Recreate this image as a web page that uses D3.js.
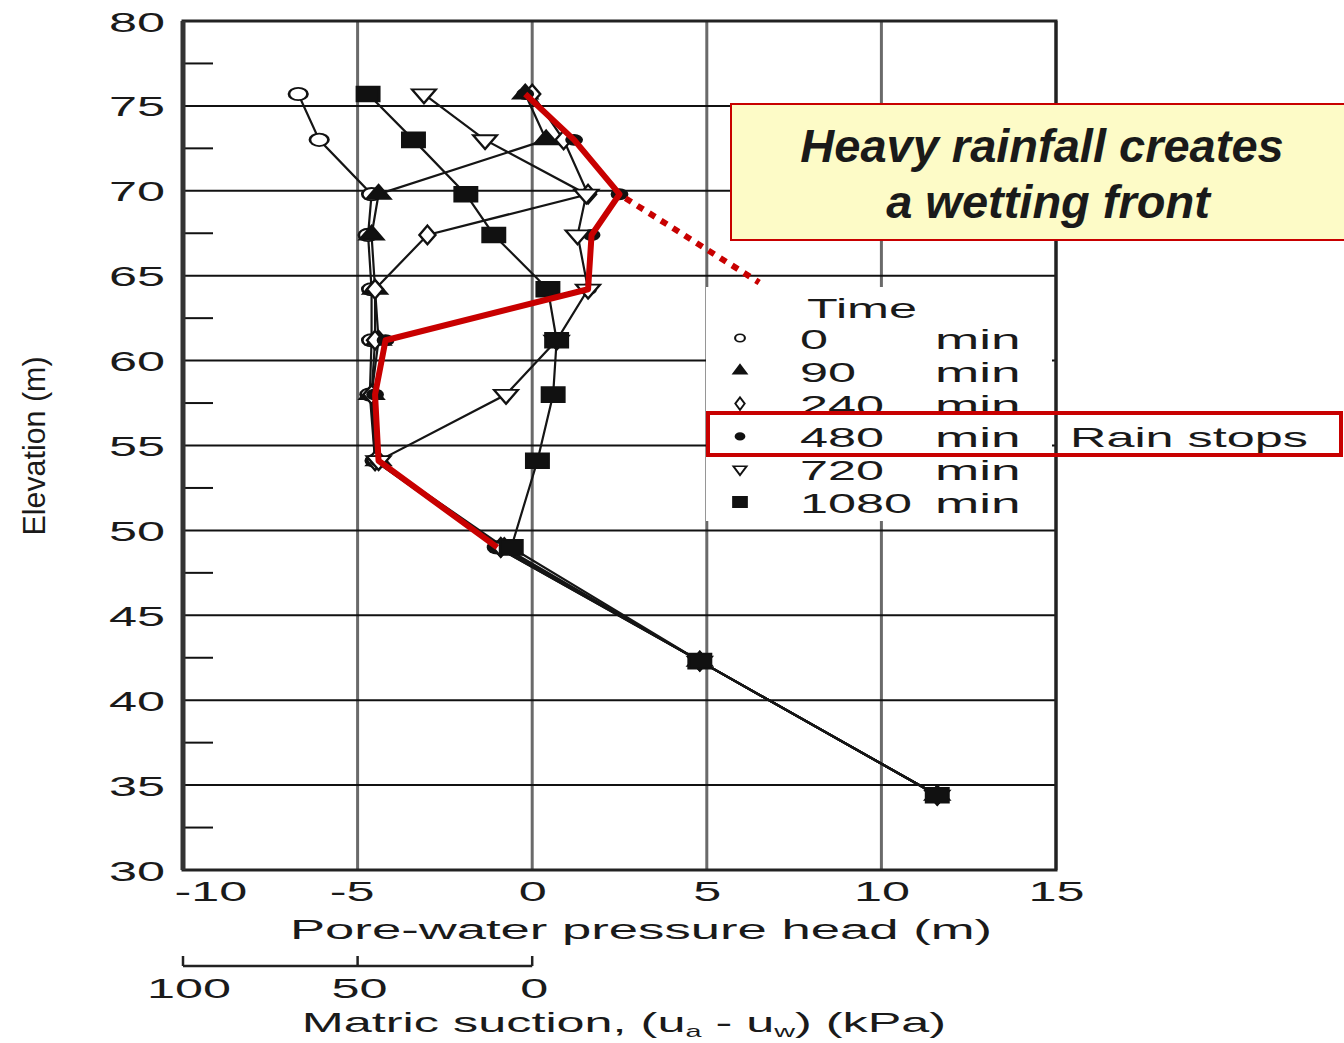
<!DOCTYPE html>
<html>
<head>
<meta charset="utf-8">
<script src="https://cdn.jsdelivr.net/npm/d3@7"></script>
<style>
  body { margin: 0; background: #fff; }
  text { font-family: "Liberation Sans", Arial, sans-serif; fill: #1a1a1a; }
</style>
</head>
<body>
<div id="chart"></div>
<script>
// Elevation levels (m) shared by all profiles
const elevations = [75.7, 73.0, 69.8, 67.4, 64.2, 61.2, 58.0, 54.1, 49.0, 42.3, 34.4];

// Pore-water pressure head (m) at each elevation, one array per time
const head0    = [-6.7, -6.1, -4.6, -4.7, -4.6, -4.6, -4.65, -4.5, -1.0, 4.8, 11.6];
const head90   = [-0.2, 0.4, -4.4, -4.6, -4.5, -4.4, -4.6, -4.4, -0.8, 4.8, 11.6];
const head240  = [0.0, 0.9, 1.6, -3.0, -4.5, -4.5, -4.6, -4.5, -0.9, 4.8, 11.6];
const head480  = [-0.2, 1.2, 2.5, 1.7, 1.6, -4.2, -4.5, -4.4, -1.0, 4.8, 11.6];
const head720  = [-3.1, -1.35, 1.55, 1.3, 1.6, 0.7, -0.75, -4.4, -0.9, 4.8, 11.6];
const head1080 = [-4.7, -3.4, -1.9, -1.1, 0.45, 0.7, 0.6, 0.15, -0.6, 4.8, 11.6];

const timeLabels = ["0", "90", "240", "480", "720", "1080"];
const xTicks = [-10, -5, 0, 5, 10, 15];
const yTicks = [30, 35, 40, 45, 50, 55, 60, 65, 70, 75, 80];
const suctionTicks = [100, 50, 0];

// annotation: end of the dotted pointer (head, elevation)
const pointerEnd = [6.5, 64.6];

const series = [
    { time: "0",    values: head0,    shape: d3.symbolCircle,   fill: false, size: 120 },
    { time: "90",   values: head90,   shape: d3.symbolTriangle, fill: true,  size: 110 },
    { time: "240",  values: head240,  shape: d3.symbolDiamond,  fill: false, size: 100 },
    { time: "480",  values: head480,  shape: d3.symbolCircle,   fill: true,  size: 80 },
    { time: "720",  values: head720,  shape: d3.symbolTriangle, fill: false, size: 110, flip: true },
    { time: "1080", values: head1080, shape: d3.symbolSquare,   fill: true,  size: 220 }
];

const W = 1344, H = 1043;
const K = 1.8; // horizontal stretch of the scanned lettering

const svg = d3.select("#chart").append("svg")
    .attr("width", W).attr("height", H);

const x = d3.scaleLinear().domain([-10, 15]).range([183, 1056]);
const y = d3.scaleLinear().domain([30, 80]).range([870, 21]);
const xs = d3.scaleLinear().domain([100, 0]).range([x(-10), x(0)]);

// grid
svg.append("g").selectAll("line")
    .data(xTicks.slice(1, -1))
    .join("line")
    .attr("x1", d => x(d)).attr("x2", d => x(d))
    .attr("y1", y(80)).attr("y2", y(30))
    .attr("stroke", "#6a6a6a").attr("stroke-width", 3);

svg.append("g").selectAll("line")
    .data(yTicks.slice(1, -1))
    .join("line")
    .attr("x1", x(-10)).attr("x2", x(15))
    .attr("y1", d => y(d)).attr("y2", d => y(d))
    .attr("stroke", "#111").attr("stroke-width", 2);

// minor ticks on left axis
svg.append("g").selectAll("line")
    .data(d3.range(32.5, 80, 5))
    .join("line")
    .attr("x1", x(-10)).attr("x2", x(-10) + 30)
    .attr("y1", d => y(d)).attr("y2", d => y(d))
    .attr("stroke", "#111").attr("stroke-width", 2);

// legend background hides the grid behind it
svg.append("rect")
    .attr("x", 706).attr("y", 287).attr("width", 346).attr("height", 234)
    .attr("fill", "#fff");

// frame
svg.append("rect")
    .attr("x", x(-10)).attr("y", y(80))
    .attr("width", x(15) - x(-10)).attr("height", y(30) - y(80))
    .attr("fill", "none").attr("stroke", "#222").attr("stroke-width", 3);
svg.append("line")
    .attr("x1", x(-10)).attr("x2", x(-10)).attr("y1", y(80)).attr("y2", y(30))
    .attr("stroke", "#333").attr("stroke-width", 5);
svg.append("line")
    .attr("x1", x(15)).attr("x2", x(15)).attr("y1", y(80)).attr("y2", y(30))
    .attr("stroke", "#222").attr("stroke-width", 3);

// axes
const yAxis = svg.append("g")
    .attr("transform", `translate(${x(-10)},0)`)
    .call(d3.axisLeft(y).tickValues(yTicks).tickFormat(String).tickSize(0).tickPadding(0));
yAxis.select(".domain").remove();
yAxis.selectAll("text")
    .attr("x", 0).attr("dy", "0.36em")
    .attr("transform", `translate(-18,0) scale(${K},1)`)
    .style("font-size", "28px").attr("fill", "#1a1a1a");

const xAxis = svg.append("g")
    .attr("transform", `translate(0,${y(30)})`)
    .call(d3.axisBottom(x).tickValues(xTicks).tickFormat(String).tickSize(0).tickPadding(0));
xAxis.select(".domain").remove();
xAxis.selectAll("text")
    .attr("y", 0).attr("dy", 0)
    .attr("text-anchor", d => d === -10 ? "start" : "middle")
    .attr("transform", d => `translate(${d === -10 ? -9 : d < 0 ? -6 : 0},31) scale(${K},1)`)
    .style("font-size", "28px").attr("fill", "#1a1a1a");

// matric suction scale
const sAxis = svg.append("g").attr("transform", "translate(0,966)");
sAxis.append("line")
    .attr("x1", xs(100)).attr("x2", xs(0))
    .attr("stroke", "#222").attr("stroke-width", 2.5);
sAxis.selectAll(".stick")
    .data(suctionTicks)
    .join("line")
    .attr("class", "stick")
    .attr("x1", d => xs(d)).attr("x2", d => xs(d))
    .attr("y1", 0).attr("y2", -10)
    .attr("stroke", "#222").attr("stroke-width", 2.5);
sAxis.selectAll("text")
    .data(suctionTicks)
    .join("text")
    .attr("text-anchor", "middle")
    .attr("transform", d => `translate(${xs(d) + (d === 100 ? 6 : 2)},32) scale(${K},1)`)
    .style("font-size", "28px")
    .text(d => d);

// axis titles
svg.append("text")
    .attr("text-anchor", "middle")
    .attr("transform", `translate(641,939) scale(1.88,1)`)
    .style("font-size", "28px")
    .text("Pore-water pressure head  (m)");

const st = svg.append("text")
    .attr("text-anchor", "middle")
    .attr("transform", `translate(624,1032) scale(${K},1)`)
    .style("font-size", "28px");
st.append("tspan").text("Matric suction, (u");
st.append("tspan").attr("dy", 5).style("font-size", "16px").text("a");
st.append("tspan").attr("dy", -5).text(" - u");
st.append("tspan").attr("dy", 5).style("font-size", "16px").text("w");
st.append("tspan").attr("dy", -5).text(") (kPa)");

svg.append("text")
    .attr("text-anchor", "middle")
    .attr("transform", "translate(45,446) rotate(-90) scale(0.95,1)")
    .style("font-size", "32px")
    .text("Elevation (m)");

// profiles
const line = d3.line()
    .x(d => x(d[0]))
    .y(d => y(d[1]));

series.forEach(s => {
    s.points = s.values.map((v, i) => [v, elevations[i]]);
});

svg.append("g").selectAll("path")
    .data(series)
    .join("path")
    .attr("d", d => line(d.points))
    .attr("fill", "none")
    .attr("stroke", "#151515")
    .attr("stroke-width", 2.2);

const markerPath = (s) => d3.symbol().type(s.shape).size(s.size)();

series.forEach(s => {
    svg.append("g").selectAll("path")
        .data(s.points)
        .join("path")
        .attr("d", markerPath(s))
        .attr("transform", d => `translate(${x(d[0])},${y(d[1])}) scale(1.5,${s.flip ? -1 : 1})`)
        .attr("fill", s.fill ? "#111" : "#fff")
        .attr("stroke", "#111")
        .attr("stroke-width", 1.8);
});

// wetting front highlight (480 min, above elevation 49 m)
const front = series[3].points.filter(p => p[1] >= 49);
svg.append("path")
    .attr("d", line(front))
    .attr("fill", "none")
    .attr("stroke", "#c80000")
    .attr("stroke-width", 6)
    .attr("stroke-linejoin", "round");

svg.append("line")
    .attr("x1", x(front[2][0]) + 6).attr("y1", y(front[2][1]) + 4)
    .attr("x2", x(pointerEnd[0])).attr("y2", y(pointerEnd[1]))
    .attr("stroke", "#c80000")
    .attr("stroke-width", 6)
    .attr("stroke-dasharray", "7,7");

// callout
svg.append("rect")
    .attr("x", 731).attr("y", 104).attr("width", 640).attr("height", 136)
    .attr("fill", "#fdfbc7")
    .attr("stroke", "#c80000").attr("stroke-width", 2);
svg.append("text")
    .attr("x", 1042).attr("y", 162)
    .attr("text-anchor", "middle")
    .style("font-size", "47px").style("font-weight", "bold").style("font-style", "italic")
    .attr("fill", "#000")
    .text("Heavy rainfall creates");
svg.append("text")
    .attr("x", 1048).attr("y", 218)
    .attr("text-anchor", "middle")
    .style("font-size", "47px").style("font-weight", "bold").style("font-style", "italic")
    .attr("fill", "#000")
    .text("a wetting front");

// legend
const legend = svg.append("g");
legend.append("text")
    .attr("transform", `translate(807,318) scale(${K},1)`)
    .style("font-size", "28px")
    .text("Time");

const rowY = i => 338 + i * 32.8;

legend.selectAll(".lm")
    .data(series)
    .join("path")
    .attr("class", "lm")
    .attr("d", s => d3.symbol().type(s.shape).size(s.time === "1080" ? 110 : s.time === "480" ? 35 : 45)())
    .attr("transform", (s, i) => `translate(740,${rowY(i)}) scale(1.3,${s.flip ? -1 : 1})`)
    .attr("fill", s => s.fill ? "#111" : "#fff")
    .attr("stroke", "#111")
    .attr("stroke-width", 1.6);

legend.selectAll(".lt")
    .data(timeLabels)
    .join("text")
    .attr("class", "lt")
    .attr("transform", (d, i) => `translate(800,${rowY(i) + 11}) scale(${K},1)`)
    .style("font-size", "28px")
    .text(d => d);

legend.selectAll(".lu")
    .data(timeLabels)
    .join("text")
    .attr("class", "lu")
    .attr("transform", (d, i) => `translate(935,${rowY(i) + 11}) scale(1.9,1)`)
    .style("font-size", "28px")
    .text("min");

// rain stops marker
svg.append("rect")
    .attr("x", 708).attr("y", 413).attr("width", 633).attr("height", 42)
    .attr("fill", "none")
    .attr("stroke", "#c80000").attr("stroke-width", 4);
svg.append("text")
    .attr("transform", `translate(1070,${rowY(3) + 11}) scale(${K},1)`)
    .style("font-size", "28px")
    .text("Rain stops");
</script>
</body>
</html>
